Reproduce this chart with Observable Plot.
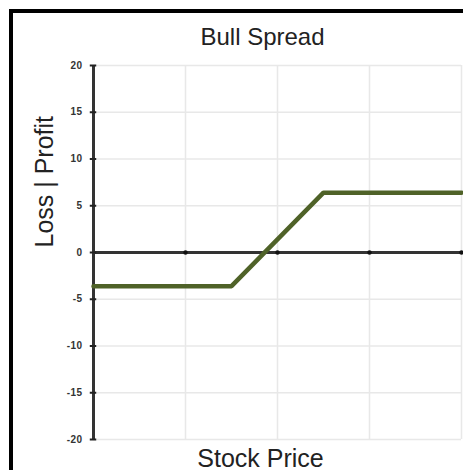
<!DOCTYPE html>
<html>
<head>
<meta charset="utf-8">
<script src="https://cdn.jsdelivr.net/npm/d3@7"></script>
<script src="https://cdn.jsdelivr.net/npm/@observablehq/plot@0.6"></script>
<style>
  html, body { margin: 0; padding: 0; background: #fff; overflow: hidden; }
  #wrap { position: relative; width: 463px; height: 470px; overflow: hidden; font-family: "Liberation Sans", Arial, sans-serif; }
  #frame { position: absolute; left: 9px; top: 9px; width: 480px; height: 480px; border: 4px solid #000; box-sizing: border-box; }
  #chart { position: absolute; left: 0; top: 0; }
  #chart svg { overflow: visible; }
  g[aria-label="y-axis tick label"] text { font-weight: bold; letter-spacing: 0.4px; }
</style>
</head>
<body>
<div id="wrap"><div id="frame"></div><div id="chart"></div></div>
<script>
// Data
const stockPrice = [0, 15, 25, 40];
const profit = [-3.6, -3.6, 6.4, 6.4];
const yTicks = [-20, -15, -10, -5, 0, 5, 10, 15, 20];
const xTicks = [0, 10, 20, 30, 40];
const title = "Bull Spread";
const xLabel = "Stock Price";
const yLabel = "Loss | Profit";

const pts = stockPrice.map((x, i) => ({x, y: profit[i]}));
const innerX = xTicks.filter(d => d !== 0);

const chart = Plot.plot({
  width: 463,
  height: 470,
  marginLeft: 93,
  marginRight: 2,
  marginTop: 65,
  marginBottom: 31,
  style: {fontFamily: "'Liberation Sans', Arial, sans-serif", background: "transparent"},
  x: {domain: [0, 40], axis: null},
  y: {domain: [-20, 20], axis: null},
  marks: [
    Plot.gridX(xTicks, {stroke: "#e8e8e8", strokeOpacity: 1, strokeWidth: 1.5}),
    Plot.gridY(yTicks, {stroke: "#e8e8e8", strokeOpacity: 1, strokeWidth: 1.5}),
    Plot.axisY(yTicks, {tickSize: 0, tickPadding: 11, fontSize: 10, fill: "#333", label: null, tickFormat: d => String(d)}),
    Plot.ruleY([0], {stroke: "#333", strokeWidth: 3}),
    Plot.ruleX([0], {stroke: "#333", strokeWidth: 3}),
    Plot.ruleY(yTicks, {x1: -0.35, x2: 0.35, stroke: "#222", strokeWidth: 2}),
    Plot.dot(innerX, {x: d => d, y: 0, r: 2.2, fill: "#111", stroke: null}),
    Plot.line(pts, {x: "x", y: "y", stroke: "#4f6228", strokeWidth: 4.5, strokeLinejoin: "miter"}),
    Plot.text([title], {frameAnchor: "top", dx: -15, dy: -28, lineAnchor: "middle", fontSize: 24, fill: "#222"}),
    Plot.text([xLabel], {frameAnchor: "bottom", dx: -17, dy: 19, lineAnchor: "middle", fontSize: 25, fill: "#222"}),
    Plot.text([yLabel], {frameAnchor: "left", dx: -49, dy: -5, rotate: -90, lineAnchor: "middle", fontSize: 25, fill: "#222"})
  ]
});
document.getElementById("chart").append(chart);
</script>
</body>
</html>
